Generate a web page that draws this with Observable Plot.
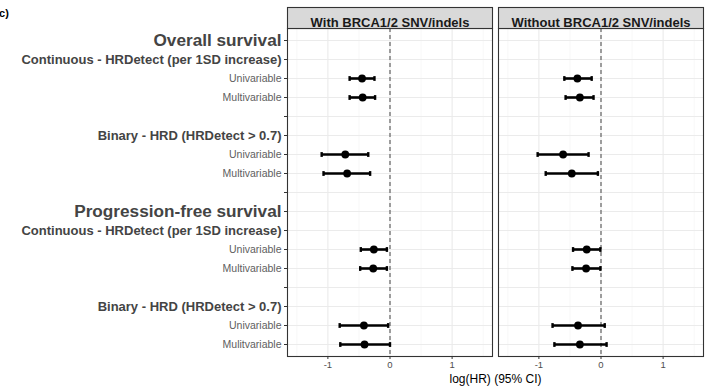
<!DOCTYPE html>
<html>
<head>
<meta charset="utf-8">
<script src="https://cdn.jsdelivr.net/npm/d3@7"></script>
<script src="https://cdn.jsdelivr.net/npm/@observablehq/plot@0.6"></script>
<style>
  html, body { margin: 0; padding: 0; background: #fff; }
  #chart { width: 713px; height: 387px; }
</style>
</head>
<body>
<div id="chart"></div>
<script>
// ---- data ----
const panels = ["With BRCA1/2 SNV/indels", "Without BRCA1/2 SNV/indels"];
const rowKeys = ["os", "os_cont", "os_cont_uni", "os_cont_multi", "gap1",
  "os_bin", "os_bin_uni", "os_bin_multi", "gap2",
  "pfs", "pfs_cont", "pfs_cont_uni", "pfs_cont_multi", "gap3",
  "pfs_bin", "pfs_bin_uni", "pfs_bin_multi"];
const rowLabels = ["Overall survival", "Continuous - HRDetect (per 1SD increase)", "Univariable", "Multivariable", "",
  "Binary - HRD (HRDetect > 0.7)", "Univariable", "Multivariable", "",
  "Progression-free survival", "Continuous - HRDetect (per 1SD increase)", "Univariable", "Multivariable", "",
  "Binary - HRD (HRDetect > 0.7)", "Univariable", "Mulitvariable"];
const rowLevel = [1, 2, 3, 3, 0, 2, 3, 3, 0, 1, 2, 3, 3, 0, 2, 3, 3];
const estRows = ["os_cont_uni", "os_cont_multi", "os_bin_uni", "os_bin_multi",
  "pfs_cont_uni", "pfs_cont_multi", "pfs_bin_uni", "pfs_bin_multi"];
const withEst = [-0.45, -0.44, -0.72, -0.69, -0.26, -0.27, -0.42, -0.41];
const withLo  = [-0.65, -0.65, -1.10, -1.07, -0.47, -0.48, -0.81, -0.80];
const withHi  = [-0.25, -0.24, -0.35, -0.32, -0.05, -0.05, -0.03, 0.00];
const withoutEst = [-0.38, -0.34, -0.61, -0.47, -0.23, -0.24, -0.37, -0.34];
const withoutLo  = [-0.59, -0.57, -1.02, -0.89, -0.45, -0.46, -0.78, -0.75];
const withoutHi  = [-0.15, -0.12, -0.20, -0.05, -0.01, -0.01, 0.06, 0.09];
const xTicks = [-1, 0, 1];
const xMinor = [-1.5, -0.5, 0.5, 1.5];
const xDomain = [-1.65, 1.65];
const xTitle = "log(HR) (95% CI)";
const panelTag = "c)";

// ---- tables ----
const rows = rowKeys.map((k, i) => ({key: k, label: rowLabels[i], level: rowLevel[i], panel: panels[0]}));
const est = [];
estRows.forEach((k, i) => {
  est.push({panel: panels[0], row: k, est: withEst[i], lo: withLo[i], hi: withHi[i]});
  est.push({panel: panels[1], row: k, est: withoutEst[i], lo: withoutLo[i], hi: withoutHi[i]});
});
const capSymbol = {draw(ctx) { ctx.rect(-1.2, -2.4, 2.4, 4.8); }};

const W = 713, H = 387;
const mTop = 28, mBottom = 31, mLeft = 287, mRight = 9;
const font = "'Liberation Sans', Arial, Helvetica, sans-serif";

const plot = Plot.plot({
  width: W, height: H,
  marginTop: mTop, marginBottom: mBottom, marginLeft: mLeft, marginRight: mRight,
  style: {fontFamily: font, background: "white", overflow: "visible"},
  fx: {domain: panels, paddingInner: 0.028, paddingOuter: 0, axis: null, label: null},
  x: {domain: xDomain, label: null},
  y: {domain: rowKeys, type: "point", padding: 0.6, label: null},
  marks: [
    // minor & major grid
    Plot.ruleX(xMinor, {x: d => d, stroke: "#f2f2f2", strokeWidth: 0.6}),
    Plot.ruleY(rowKeys, {y: d => d, stroke: "#ebebeb", strokeWidth: 1.1}),
    Plot.ruleX(xTicks, {x: d => d, stroke: "#ebebeb", strokeWidth: 1.1}),
    // zero reference
    Plot.ruleX([0], {x: d => d, stroke: "#555", strokeWidth: 1.1, strokeDasharray: "4,3"}),
    // error bars
    Plot.ruleY(est, {fx: "panel", y: "row", x1: "lo", x2: "hi", stroke: "black", strokeWidth: 2.6}),
    Plot.dot(est, {fx: "panel", y: "row", x: "lo", symbol: capSymbol, fill: "black", stroke: null}),
    Plot.dot(est, {fx: "panel", y: "row", x: "hi", symbol: capSymbol, fill: "black", stroke: null}),
    Plot.dot(est, {fx: "panel", y: "row", x: "est", r: 3.9, fill: "black", stroke: null}),
    // panel border
    Plot.frame({stroke: "#333", strokeWidth: 1.1}),
    // strip header
    Plot.frame({fill: "#d9d9d9", stroke: "#333", strokeWidth: 1.1, insetTop: -21, insetBottom: H - mTop - mBottom}),
    Plot.text(panels, {fx: d => d, text: d => d, frameAnchor: "top", dy: -10.5, fontSize: 13, fontWeight: "bold", fill: "#1a1a1a"}),
    // axes
    Plot.axisX({ticks: xTicks, tickFormat: d => String(d), tickSize: 3, tickPadding: 2, fontSize: 9.5, fill: "#4d4d4d", stroke: "#333", label: null}),
    Plot.axisY({tickFormat: () => "", tickSize: 3, stroke: "#333", label: null}),
    // y labels
    Plot.text(rows.filter(d => d.level === 1), {fx: "panel", y: "key", text: "label", frameAnchor: "left", textAnchor: "end", dx: -6, fontSize: 17.2, fontWeight: "bold", fill: "#444444"}),
    Plot.text(rows.filter(d => d.level === 2), {fx: "panel", y: "key", text: "label", frameAnchor: "left", textAnchor: "end", dx: -6, fontSize: 13, fontWeight: "bold", fill: "#444444"}),
    Plot.text(rows.filter(d => d.level === 3), {fx: "panel", y: "key", text: "label", frameAnchor: "left", textAnchor: "end", dx: -6, fontSize: 10.5, fill: "#606060"})
  ]
});

const svg = d3.select(plot);
svg.append("text")
  .attr("x", mLeft + (W - mLeft - mRight) / 2).attr("y", H - 4)
  .attr("text-anchor", "middle").attr("font-size", 12).attr("fill", "#000")
  .attr("font-family", font).text(xTitle);
svg.append("text")
  .attr("x", 4).attr("y", 17)
  .attr("font-size", 11).attr("font-weight", "bold").attr("fill", "#000")
  .attr("font-family", font).text(panelTag);

document.getElementById("chart").appendChild(plot);
</script>
</body>
</html>
